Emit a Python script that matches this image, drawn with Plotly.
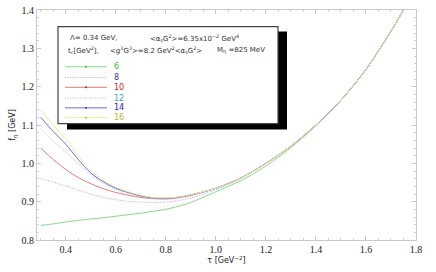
import plotly.graph_objects as go

tau = [0.30, 0.35, 0.40, 0.45, 0.50, 0.55, 0.60, 0.65, 0.70, 0.75, 0.80, 0.85, 0.90,
       1.00, 1.10, 1.20, 1.30, 1.40, 1.50, 1.60, 1.70, 1.75]

tail = [0.935, 0.962, 1.000, 1.045, 1.100, 1.165, 1.245, 1.345, 1.400]

f_tc6 = [0.838, 0.842, 0.847, 0.851, 0.855, 0.858, 0.862, 0.866, 0.870, 0.875, 0.880, 0.888, 0.898,
         0.926, 0.955, 0.993, 1.041, 1.098, 1.164, 1.245, 1.345, 1.400]
f_tc8 = [0.960, 0.951, 0.941, 0.930, 0.920, 0.911, 0.905, 0.901, 0.899, 0.898, 0.899, 0.903, 0.910] + \
        [0.931, 0.961, 1.000, 1.045, 1.100, 1.165, 1.245, 1.345, 1.400]
f_tc10 = [1.040, 1.010, 0.984, 0.963, 0.947, 0.934, 0.924, 0.917, 0.911, 0.908, 0.907, 0.910, 0.916] + tail
f_tc12 = [1.090, 1.058, 1.030, 0.998, 0.970, 0.948, 0.932, 0.922, 0.914, 0.909, 0.908, 0.911, 0.918] + tail
f_tc14 = [1.120, 1.083, 1.050, 1.010, 0.975, 0.952, 0.935, 0.924, 0.915, 0.910, 0.909, 0.912, 0.918] + tail
f_tc16 = [1.140, 1.100, 1.063, 1.020, 0.982, 0.956, 0.938, 0.926, 0.917, 0.911, 0.910, 0.912, 0.918] + tail

tc_values = [6, 8, 10, 12, 14, 16]
series = [f_tc6, f_tc8, f_tc10, f_tc12, f_tc14, f_tc16]
line_colors = ["#8ad88a", "#a8a8f0", "#e47a7a", "#95c4c4", "#6a6ad8", "#ecec9c"]
label_colors = ["#33bb33", "#3333bb", "#cc2222", "#33a8a8", "#2222ee", "#bbbb22"]
dashes = ["solid", "1px,1.5px", "solid", "1px,1.5px", "solid", "solid"]
has_dot = [True, False, True, False, True, True]

x_ticks = [0.4, 0.6, 0.8, 1.0, 1.2, 1.4, 1.6, 1.8]
y_ticks = [0.8, 0.9, 1.0, 1.1, 1.2, 1.3, 1.4]

W, H = 436, 272
ML, MR, MT, MB = 37, 20, 5, 32
PW, PH = W - ML - MR, H - MT - MB


def px(x):
    return (x - ML) / PW


def py(y):
    return (H - MB - y) / PH


fig = go.Figure()
for tc, ys, lc, d in zip(tc_values, series, line_colors, dashes):
    fig.add_trace(go.Scatter(x=tau, y=ys, mode="lines", name=str(tc),
                             line=dict(color=lc, width=1, dash=d, shape="spline", smoothing=0.8),
                             showlegend=False))

shapes = []
# legend box shadow and box
shapes.append(dict(type="rect", xref="paper", yref="paper", x0=px(67), x1=px(287), y0=py(127), y1=py(27),
                   fillcolor="black", line=dict(width=0), layer="above"))
shapes.append(dict(type="rect", xref="paper", yref="paper", x0=px(58), x1=px(278), y0=py(121), y1=py(22),
                   fillcolor="white", line=dict(color="#444444", width=1.2), layer="above"))

annotations = []
font_box = dict(family="DejaVu Sans", size=7, color="#333333")
header = [
    (68, 34, "Λ= 0.34 GeV,"),
    (148, 34, "&lt;α<sub>s</sub>G<sup>2</sup>&gt;=6.35x10<sup>−2</sup> GeV<sup>4</sup>"),
    (66, 46, "t<sub>c</sub>[GeV<sup>2</sup>],"),
    (108, 46, "&lt;g<sup>3</sup>G<sup>3</sup>&gt;=8.2 GeV<sup>2</sup>&lt;α<sub>s</sub>G<sup>2</sup>&gt;"),
    (215, 46, "M<sub>η</sub> =825 MeV"),
]
for x, y, t in header:
    annotations.append(dict(x=px(x), y=py(y), xref="paper", yref="paper", text=t, showarrow=False,
                            xanchor="left", yanchor="middle", font=font_box))

leg_y = [63, 74, 84, 95, 105, 115]
for tc, yy, lc, lab, d, dot in zip(tc_values, leg_y, line_colors, label_colors, dashes, has_dot):
    shapes.append(dict(type="line", xref="paper", yref="paper", x0=px(65), x1=px(107), y0=py(yy), y1=py(yy),
                       line=dict(color=lc, width=1, dash=d), layer="above"))
    if dot:
        shapes.append(dict(type="circle", xref="paper", yref="paper", x0=px(85), x1=px(87),
                           y0=py(yy + 1), y1=py(yy - 1), fillcolor=lab, line=dict(width=0), layer="above"))
    annotations.append(dict(x=px(112), y=py(yy), xref="paper", yref="paper", text=str(tc), showarrow=False,
                            xanchor="left", yanchor="middle",
                            font=dict(family="DejaVu Sans", size=8, color=lab)))

tick_font = dict(family="Liberation Serif", size=10, color="#222222")
fig.update_layout(
    width=W, height=H,
    margin=dict(l=ML, r=MR, t=MT, b=MB),
    paper_bgcolor="white", plot_bgcolor="white",
    shapes=shapes, annotations=annotations,
    xaxis=dict(range=[0.285, 1.8001], tickvals=x_ticks, ticktext=[f"{v:.1f}" for v in x_ticks],
               showgrid=False, zeroline=False, showline=True, linecolor="#c8c8c8", linewidth=1,
               mirror="allticks", ticks="inside", ticklen=4, tickcolor="#c8c8c8",
               minor=dict(dtick=0.05, ticks="inside", ticklen=2, tickcolor="#d0d0d0"),
               tickfont=tick_font, ticklabeloverflow="allow",
               title=dict(text="τ [GeV<sup>−2</sup>]", font=dict(family="DejaVu Sans", size=8, color="#222222"),
                          standoff=2)),
    yaxis=dict(range=[0.8, 1.4001], tickvals=y_ticks, ticktext=[f"{v:.1f}" for v in y_ticks],
               showgrid=False, zeroline=False, showline=True, linecolor="#c8c8c8", linewidth=1,
               mirror="allticks", ticks="inside", ticklen=4, tickcolor="#c8c8c8",
               minor=dict(dtick=0.02, ticks="inside", ticklen=2, tickcolor="#d0d0d0"),
               tickfont=tick_font, ticklabeloverflow="allow",
               title=dict(text="f<sub>η</sub> [GeV]", font=dict(family="DejaVu Sans", size=8, color="#222222"),
                          standoff=4)),
)

fig.write_html("out.html", config={"displayModeBar": False},
               post_script="document.body.style.margin='0';document.body.style.padding='0';")
